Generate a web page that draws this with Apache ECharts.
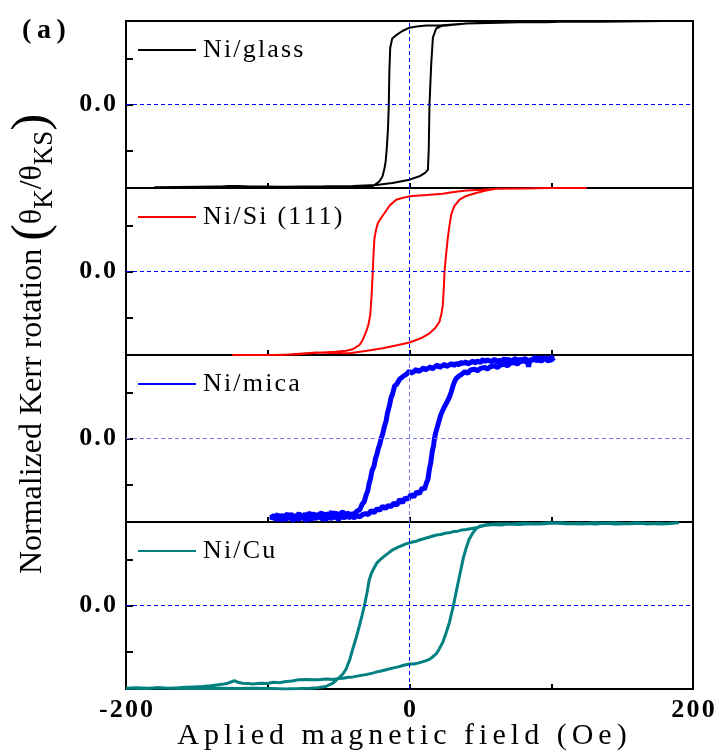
<!DOCTYPE html>
<html>
<head>
<meta charset="utf-8">
<title>Kerr hysteresis loops</title>
<script src="https://cdn.jsdelivr.net/npm/echarts@6/dist/echarts.min.js"></script>
<style>
  html, body { margin: 0; padding: 0; background: #fff; }
  #chart { width: 719px; height: 754px; }
</style>
</head>
<body>
<div id="chart"></div>
<script>
// sample names, one panel each (top to bottom)
const samples = ['Ni/glass', 'Ni/Si (111)', 'Ni/mica', 'Ni/Cu'];

// tick labels
const xTickLabels = [-200, 0, 200];
const yTickValues = [-0.55, 0, 0.55];
const yTickLabels = [0];

// each loop: field sweep down (+H -> -H), then sweep up (-H -> +H); [field Oe, normalized Kerr]
const glassDown = [[180,1.0],[150,0.995],[134,0.99],[110,0.995],[97,0.985],[87,0.985],[75,0.99],[63,0.985],[40,0.97],[21,0.945],[11.8,0.945],[5,0.935],[0,0.92],[-5,0.88],[-9.4,0.83],[-12.2,0.79],[-13.6,0.68],[-14.2,0.4],[-14.6,0],[-15.2,-0.3],[-16,-0.52],[-16.8,-0.68],[-17.6,-0.76],[-19,-0.86],[-21.2,-0.92],[-25.9,-0.98],[-40,-0.985],[-54,-0.985],[-80,-0.99],[-110,-0.985],[-120,-0.975],[-128,-0.975],[-140,-0.99],[-160,-0.99],[-180,-0.99]];
const glassUp = [[-180,-0.99],[-150,-0.985],[-120,-0.98],[-90,-0.985],[-60,-0.98],[-40,-0.975],[-23.5,-0.965],[-12,-0.94],[0,-0.9],[7,-0.86],[11,-0.82],[13,-0.78],[13.6,-0.52],[14.1,0],[15.3,0.48],[16.5,0.8],[18.8,0.91],[22.3,0.94],[40,0.97],[63.5,0.98],[90,0.99],[130,0.995],[180,1.0]];

const siDown = [[125,1.0],[99,1.0],[80,0.995],[61,0.99],[51.7,0.98],[40,0.97],[30,0.95],[23.5,0.93],[12,0.915],[0,0.9],[-5,0.88],[-9.4,0.86],[-14,0.79],[-17.6,0.70],[-20,0.64],[-22.3,0.58],[-23.6,0.50],[-24.7,0.40],[-25.4,0.2],[-25.9,0],[-26.8,-0.3],[-27.7,-0.52],[-29,-0.64],[-30.6,-0.72],[-33,-0.82],[-35.3,-0.88],[-40,-0.93],[-44.7,-0.95],[-52,-0.96],[-61,-0.97],[-70,-0.98],[-77.6,-0.99],[-95,-1.0],[-125,-1.0]];
const siUp = [[-125,-1.0],[-90,-1.0],[-78,-0.985],[-65.8,-0.97],[-55,-0.975],[-42.3,-0.98],[-30,-0.95],[-18.8,-0.92],[-8,-0.88],[0,-0.85],[8,-0.80],[14.1,-0.74],[18,-0.68],[21.2,-0.60],[22.6,-0.50],[23.5,-0.40],[24.2,-0.2],[24.7,0],[25.8,0.2],[27,0.40],[28.2,0.55],[29.4,0.68],[31.5,0.78],[35.3,0.86],[40,0.905],[47,0.94],[54,0.97],[61,0.99],[80,0.995],[99,1.0],[125,1.0]];

// Ni/mica is a noisy trace: the values follow the rough band
const micaDown = [[102,0.97],[100,0.94],[99,0.96],[97,0.93],[96,0.97],[94,0.95],[93,0.92],[91,0.96],[90,0.94],[88,0.97],[87,0.93],[85,0.95],[84,0.86],[83,0.94],[81,0.96],[80,0.93],[78,0.95],[76,0.92],[75,0.96],[73,0.94],[72,0.91],[70,0.95],[68,0.93],[67,0.96],[65,0.92],[63,0.94],[62,0.91],[60,0.95],[58,0.92],[57,0.90],[55,0.94],[53,0.92],[52,0.95],[50,0.91],[48,0.93],[46,0.90],[45,0.93],[43,0.91],[41,0.89],[40,0.92],[38,0.90],[36,0.91],[35,0.88],[33,0.90],[31,0.87],[30,0.90],[28,0.88],[26,0.86],[25,0.89],[23,0.87],[21,0.85],[20,0.88],[18,0.86],[16,0.83],[15,0.86],[13,0.84],[11,0.82],[10,0.85],[8,0.82],[6,0.80],[5,0.83],[3,0.80],[1,0.78],[0,0.81],[-2,0.77],[-4,0.75],[-5,0.74],[-7,0.71],[-9,0.65],[-10.5,0.63],[-12,0.53],[-13,0.49],[-14.2,0.39],[-15.5,0.31],[-16.5,0.21],[-17.6,0.15],[-19,0.05],[-20,0],[-21,-0.07],[-22,-0.12],[-23,-0.19],[-24,-0.24],[-25,-0.33],[-26.5,-0.39],[-27.5,-0.48],[-28.5,-0.54],[-29.5,-0.63],[-30.5,-0.67],[-32,-0.76],[-33.5,-0.79],[-35,-0.85],[-37,-0.87],[-39,-0.90],[-40,-0.88],[-42,-0.91],[-44,-0.89],[-45,-0.92],[-47,-0.88],[-49,-0.90],[-50,-0.93],[-52,-0.89],[-54,-0.91],[-55,-0.88],[-57,-0.92],[-59,-0.90],[-60,-0.93],[-62,-0.89],[-64,-0.91],[-66,-0.94],[-67,-0.90],[-69,-0.92],[-71,-0.89],[-72,-0.93],[-74,-0.91],[-76,-0.94],[-78,-0.90],[-79,-0.92],[-81,-0.95],[-83,-0.91],[-85,-0.93],[-86,-0.90],[-88,-0.94],[-90,-0.92],[-92,-0.95],[-93,-0.91],[-95,-0.94],[-97,-0.92]];
const micaUp = [[-97,-0.97],[-96,-0.94],[-94,-0.97],[-92,-0.95],[-91,-0.98],[-89,-0.95],[-87,-0.97],[-85,-0.94],[-84,-0.96],[-82,-0.98],[-80,-0.95],[-78,-0.97],[-76,-0.94],[-75,-0.96],[-73,-0.98],[-71,-0.95],[-69,-0.97],[-68,-0.94],[-66,-0.96],[-64,-0.93],[-62,-0.96],[-61,-0.94],[-59,-0.97],[-57,-0.94],[-55,-0.96],[-53,-0.93],[-52,-0.95],[-50,-0.97],[-48,-0.93],[-46,-0.95],[-44,-0.92],[-43,-0.95],[-41,-0.93],[-39,-0.95],[-37,-0.92],[-35,-0.94],[-33,-0.91],[-31,-0.90],[-29,-0.91],[-27,-0.86],[-25,-0.89],[-23,-0.84],[-21,-0.86],[-19,-0.81],[-17,-0.84],[-15,-0.80],[-13,-0.82],[-11,-0.77],[-9,-0.80],[-7,-0.73],[-5,-0.77],[-3,-0.71],[-1,-0.73],[1,-0.67],[3,-0.70],[5,-0.64],[7,-0.66],[9,-0.59],[10.5,-0.61],[12,-0.53],[13,-0.49],[14,-0.37],[15,-0.29],[16,-0.16],[17,-0.08],[17.6,0],[18.5,0.07],[19.5,0.13],[20.5,0.19],[22,0.28],[23.5,0.34],[25,0.39],[26.5,0.44],[28,0.49],[29.5,0.56],[30.5,0.62],[31.8,0.68],[33,0.72],[35,0.75],[37,0.77],[39,0.80],[41,0.78],[43,0.82],[44,0.80],[46,0.83],[48,0.81],[50,0.84],[51,0.82],[53,0.85],[55,0.83],[57,0.86],[58,0.84],[60,0.87],[62,0.85],[64,0.88],[65,0.86],[67,0.89],[69,0.87],[71,0.90],[72,0.88],[74,0.91],[76,0.89],[78,0.92],[79,0.90],[81,0.93],[83,0.91],[85,0.94],[86,0.92],[88,0.95],[90,0.93],[92,0.96],[93,0.94],[95,0.96],[97,0.94],[99,0.97],[102,0.96]];

const cuDown = [[190,0.99],[182,0.98],[175,0.985],[168,0.975],[160,0.99],[152,0.98],[145,0.975],[138,0.985],[130,0.99],[122,0.975],[115,0.98],[107,0.99],[100,0.985],[92,0.975],[85,0.98],[77,0.97],[70,0.975],[64,0.965],[60,0.97],[54,0.96],[50,0.945],[47,0.93],[43,0.92],[40,0.91],[37,0.905],[34,0.89],[31,0.885],[28,0.87],[25,0.865],[22,0.85],[19,0.845],[16,0.83],[13,0.815],[10,0.80],[7,0.785],[5,0.77],[2,0.76],[0,0.75],[-3,0.735],[-5,0.72],[-8,0.70],[-10,0.68],[-12,0.665],[-14,0.64],[-17,0.60],[-20,0.56],[-23,0.51],[-25,0.45],[-27,0.38],[-28.5,0.30],[-30,0.15],[-31.8,0],[-33.5,-0.12],[-35.3,-0.24],[-37.5,-0.38],[-40,-0.52],[-42,-0.64],[-44.7,-0.76],[-47,-0.82],[-49.4,-0.86],[-54,-0.93],[-59,-0.97],[-65,-0.985],[-70,-0.99],[-78,-0.995],[-87,-1.0],[-98,-0.995],[-110,-0.99],[-122,-0.995],[-134,-0.99],[-142,-0.995],[-150,-0.99],[-160,-0.995],[-169,-0.99],[-178,-0.985],[-185,-0.995],[-192,-0.99],[-200,-0.99]];
const cuUp = [[-200,-0.99],[-192,-0.985],[-185,-0.99],[-177,-0.985],[-169,-0.99],[-163,-0.985],[-158,-0.98],[-152,-0.975],[-146,-0.97],[-140,-0.96],[-135,-0.95],[-131,-0.94],[-128,-0.93],[-125,-0.91],[-123.5,-0.90],[-121,-0.92],[-118,-0.93],[-114,-0.935],[-110.6,-0.94],[-105,-0.93],[-100,-0.935],[-96,-0.92],[-92,-0.925],[-87,-0.91],[-83,-0.905],[-78,-0.89],[-73,-0.885],[-68,-0.89],[-64,-0.89],[-59,-0.88],[-54,-0.885],[-50,-0.875],[-47,-0.87],[-43,-0.86],[-40,-0.855],[-35,-0.84],[-30,-0.825],[-26,-0.81],[-23,-0.795],[-20,-0.785],[-16.5,-0.77],[-12,-0.75],[-8,-0.735],[-4,-0.715],[0,-0.70],[3,-0.70],[6,-0.69],[9,-0.675],[11.8,-0.66],[14,-0.645],[16,-0.62],[18.8,-0.58],[21,-0.52],[23.5,-0.44],[26,-0.32],[28.2,-0.20],[31,0],[33.4,0.20],[35,0.33],[36.5,0.45],[38,0.57],[40,0.69],[42,0.79],[44.7,0.87],[47,0.92],[49.4,0.95],[55,0.97],[63.5,0.98],[72,0.975],[80,0.985],[90,0.98],[99,0.99],[110,0.98],[120,0.985],[131,0.975],[143.5,0.99],[155,0.98],[165,0.985],[178,0.975],[190,0.99]];

const loops = [
  glassDown.concat(glassUp),
  siDown.concat(siUp),
  micaDown.concat(micaUp),
  cuDown.concat(cuUp)
];

const colors = ['#000000', '#ff0000', '#0000ff', '#008080'];
const widths = [2, 2, 5, 3];
const zeroColors = ['#0000ff', '#0000ff', '#7a7aff', '#0000ff'];

const FONT = '"Liberation Serif", "Times New Roman", serif';
const PANEL_TOP = 21;
const PANEL_H = 167;
const HAIR = '\u200a';

// widen text a little, like the letter-spaced original
const spaced = (s, gap) => Array.from(s).join(gap);

const grid = [], xAxis = [], yAxis = [], series = [], legend = [];

samples.forEach((name, i) => {
  const top = PANEL_TOP + i * PANEL_H;
  const last = i === samples.length - 1;

  grid.push({
    left: 126, right: 26, top: top, height: PANEL_H,
    show: true, borderColor: '#000', borderWidth: 2, backgroundColor: 'transparent'
  });

  xAxis.push({
    type: 'value', gridIndex: i, min: -200, max: 200, interval: 100,
    axisLine: { show: false, onZero: false },
    splitLine: { show: false },
    axisTick: { inside: true, length: 5, lineStyle: { color: '#000', width: 2 } },
    axisLabel: {
      show: last, margin: 8,
      color: '#000', fontFamily: FONT, fontWeight: 'bold', fontSize: 26,
      formatter: v => xTickLabels.indexOf(v) >= 0 ? spaced(String(v), HAIR) : ''
    }
  });

  yAxis.push({
    type: 'value', gridIndex: i, min: -1, max: 1,
    axisLine: { show: false, onZero: false },
    splitLine: { show: false },
    axisTick: { inside: true, length: 7, customValues: yTickValues, lineStyle: { color: '#000', width: 2 } },
    axisLabel: {
      customValues: yTickLabels, margin: 10,
      color: '#000', fontFamily: FONT, fontWeight: 'bold', fontSize: 26,
      formatter: v => spaced(v.toFixed(1), HAIR)
    }
  });

  series.push({
    type: 'line', name: name,
    xAxisIndex: i, yAxisIndex: i,
    data: loops[i],
    showSymbol: false, symbol: 'none',
    lineStyle: { color: colors[i], width: widths[i] },
    itemStyle: { color: colors[i] },
    z: 3,
    markLine: {
      silent: true, symbol: 'none',
      label: { show: false },
      lineStyle: { color: zeroColors[i], type: [4, 3], width: 1 },
      data: [{ yAxis: 0 }, { xAxis: 0 }]
    }
  });

  legend.push({
    data: [name], left: 133, top: top + 11,
    icon: 'rect', itemWidth: 58, itemHeight: 2,
    selectedMode: false,
    formatter: n => spaced(n, HAIR),
    textStyle: { color: '#000', fontFamily: FONT, fontSize: 26, padding: [0, 0, 0, 2] }
  });
});

const chart = echarts.init(document.getElementById('chart'));
chart.setOption({
  animation: false,
  backgroundColor: '#fff',
  textStyle: { fontFamily: FONT },
  grid, xAxis, yAxis, series, legend,
  graphic: [
    {
      type: 'text', left: 22, top: 17,
      style: { text: spaced('(a)', '\u2009'), font: 'bold 28px ' + FONT, fill: '#000' }
    },
    {
      type: 'text', x: 402, y: 736,
      style: {
        text: spaced('Aplied magnetic field (Oe)', HAIR + HAIR),
        font: '30px ' + FONT, fill: '#000', align: 'center', verticalAlign: 'middle'
      }
    },
    {
      type: 'text', x: 33, y: 344, rotation: Math.PI / 2,
      style: {
        text: '{n|Normalized Kerr rotation }{p|(}{t|θ}{s|K}{n|/}{t|θ}{s|KS}{p|)}',
        align: 'center', verticalAlign: 'middle', fill: '#000',
        rich: {
          n: { fontSize: 32, fontFamily: FONT, fill: '#000', lineHeight: 50, verticalAlign: 'middle' },
          p: { fontSize: 50, fontFamily: FONT, fill: '#000', lineHeight: 50, verticalAlign: 'middle' },
          t: { fontSize: 32, fontFamily: FONT, fill: '#000', lineHeight: 50, verticalAlign: 'middle' },
          s: { fontSize: 27, fontFamily: FONT, fill: '#000', lineHeight: 30, verticalAlign: 'bottom' }
        }
      }
    }
  ]
});
</script>
</body>
</html>
